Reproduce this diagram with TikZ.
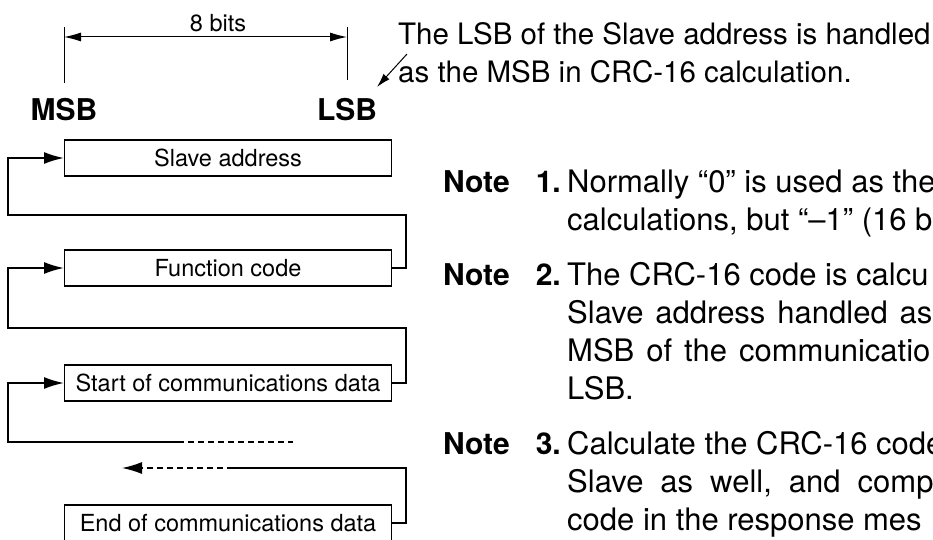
\documentclass[tikz,border=0pt]{standalone}
\usepackage{fontspec}
\setmainfont{TeX Gyre Heros}
\usetikzlibrary{arrows.meta}
\tikzset{
	mybox/.style={draw, line width=1.1pt, minimum width=327pt, minimum height=36pt, inner sep=0pt, anchor=west, font=\fontsize{23.5}{28}\selectfont},
	conn/.style={line width=1.8pt},
	mydash/.style={line width=1.4pt, dashed, dash pattern=on 6pt off 4pt},
	tip/.style={-{Latex[length=20pt, width=12pt]}},
	txt/.style={anchor=base west, inner sep=0pt, font=\fontsize{31}{36}\selectfont},
	calltxt/.style={txt, font=\fontsize{29.5}{35}\selectfont},
	notetag/.style={txt, font=\fontsize{30}{36}\selectfont\bfseries},
}

\begin{document}
\begin{tikzpicture}[x=1pt, y=-1pt]
	\clip (0,0) rectangle (933,540);
	\coordinate (mt) at (64,27);
	\coordinate (mb) at (64,83);
	\coordinate (lt) at (347,27);
	\coordinate (lb) at (347,80);
	\draw[line width=1pt] (mt) -- (mb);
	\draw[line width=1pt] (lt) -- (lb);
	\draw[line width=1pt, {Latex[length=17pt, width=9pt]}-{Latex[length=17pt, width=9pt]}] (64,37) -- (347,37);
	\node[anchor=base, inner sep=0pt, font=\fontsize{23.5}{28}\selectfont] (bits) at (218,32) {8 bits};
	\node[notetag, anchor=base] (msb) at (64,121) {MSB};
	\node[notetag, anchor=base] (lsb) at (347,121) {LSB};

	\node[calltxt] (cl1) at (398,45) {The LSB of the Slave address is handled};
	\node[calltxt] (cl2) at (398,83) {as the MSB in CRC-16 calculation.};
	\coordinate (cs) at (407,54);
	\coordinate (ct) at (377,87);
	\draw[line width=1pt, -{Latex[length=14pt, width=8pt]}] (cs) -- (ct);

	\node[mybox] (sa) at (64,158) {Slave address};
	\node[mybox] (fc) at (64,268) {Function code};
	\node[mybox] (st) at (64,383) {Start of communications data};
	\node[mybox] (en) at (64,523) {End of communications data};

	\coordinate (r1) at (406,215);
	\coordinate (l1) at (8,215);
	\draw[conn, tip] (fc.east) -| (r1) -- (l1) |- (sa.west);
	\coordinate (r2) at (406,328);
	\coordinate (l2) at (8,328);
	\draw[conn, tip] (st.east) -| (r2) -- (l2) |- (fc.west);
	\coordinate (l3) at (8,442);
	\coordinate (m3) at (178,442);
	\coordinate (e3) at (293,442);
	\draw[mydash] (m3) -- (e3);
	\draw[conn, tip] (m3) -- (l3) |- (st.west);
	\coordinate (r4) at (406,468);
	\coordinate (m4) at (233,468);
	\coordinate (t4) at (122,468);
	\draw[conn] (en.east) -| (r4) -- (m4);
	\draw[mydash, tip] (m4) -- (t4);

	\node[notetag] (n1) at (443,192) {Note};
	\node[notetag, anchor=base east] (k1) at (561,192) {1.};
	\node[txt] (t11) at (567,192) {Normally “0” is used as the};
	\node[txt] (t12) at (567,230) {calculations, but “–1” (16 b};
	\node[notetag] (n2) at (443,285) {Note};
	\node[notetag, anchor=base east] (k2) at (561,285) {2.};
	\node[txt] (t21) at (567,285) {The CRC-16 code is calcu};
	\node[txt] (t22) at (567,323) {{\spaceskip=12pt Slave address handled as}};
	\node[txt] (t23) at (567,361) {{\spaceskip=12pt MSB of the communicatio}};
	\node[txt] (t24) at (567,399) {LSB.};
	\node[notetag] (n3) at (443,454) {Note};
	\node[notetag, anchor=base east] (k3) at (561,454) {3.};
	\node[txt] (t31) at (567,454) {Calculate the CRC-16 code};
	\node[txt] (t32) at (567,492) {{\spaceskip=17pt Slave as well, and comp}};
	\node[txt] (t33) at (567,530) {code in the response mes};
\end{tikzpicture}
\end{document}
